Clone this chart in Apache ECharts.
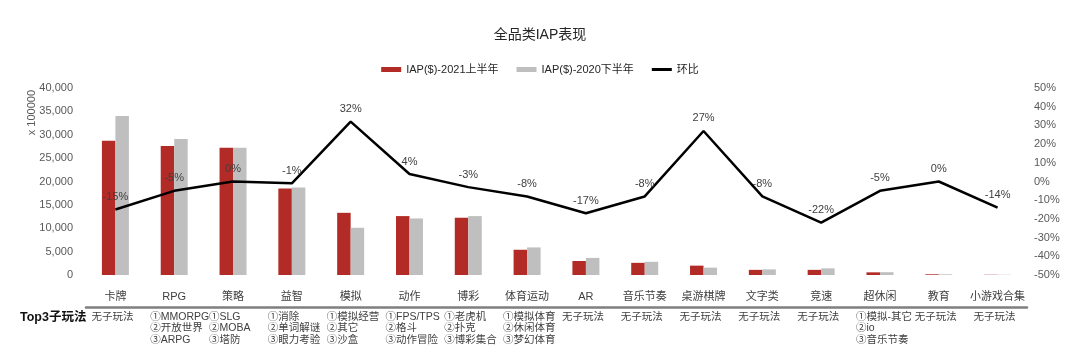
<!DOCTYPE html>
<html>
<head>
<meta charset="utf-8">
<script src="https://cdn.jsdelivr.net/npm/echarts@6/dist/echarts.min.js"></script>
<style>
html,body{margin:0;padding:0;background:#fff;}
#chart{width:1080px;height:361px;}
</style>
</head>
<body>
<div id="chart"></div>
<script>
const categories = ['卡牌','RPG','策略','益智','模拟','动作','博彩','体育运动','AR','音乐节奏','桌游棋牌','文字类','竞速','超休闲','教育','小游戏合集'];
const iap2021H1 = [28700, 27600, 27200, 18500, 13300, 12600, 12250, 5400, 3000, 2600, 2000, 1100, 1100, 570, 150, 50];
const iap2020H2 = [34000, 29100, 27200, 18700, 10100, 12100, 12600, 5900, 3650, 2830, 1570, 1200, 1420, 600, 150, 58];
const growth = [-15, -5, 0, -1, 32, 4, -3, -8, -17, -8, 27, -8, -22, -5, 0, -14];
const subPlays = [
  ['无子玩法'],
  ['①MMORPG','②开放世界','③ARPG'],
  ['①SLG','②MOBA','③塔防'],
  ['①消除','②单词解谜','③眼力考验'],
  ['①模拟经营','②其它','③沙盒'],
  ['①FPS/TPS','②格斗','③动作冒险'],
  ['①老虎机','②扑克','③博彩集合'],
  ['①模拟体育','②休闲体育','③梦幻体育'],
  ['无子玩法'],
  ['无子玩法'],
  ['无子玩法'],
  ['无子玩法'],
  ['无子玩法'],
  ['①模拟-其它','②io','③音乐节奏'],
  ['无子玩法'],
  ['无子玩法']
];
const seriesNames = ['IAP($)-2021上半年', 'IAP($)-2020下半年', '环比'];
const leftAxis = {min: 0, max: 40000, interval: 5000, unit: 'x 100000'};
const rightAxis = {min: -50, max: 50, interval: 10};
const titleText = '全品类IAP表现';
const tableHead = 'Top3子玩法';

const FONT = '"Liberation Sans", "Noto Sans CJK SC", sans-serif';
const chart = echarts.init(document.getElementById('chart'));
chart.setOption({
  backgroundColor: '#ffffff',
  textStyle: {fontFamily: FONT},
  title: {
    text: titleText, left: 'center', top: 23,
    textStyle: {fontSize: 14, fontWeight: 'normal', color: '#262626', fontFamily: FONT}
  },
  legend: {
    top: 59, left: 'center', itemWidth: 20, itemHeight: 5, itemGap: 18,
    textStyle: {fontSize: 11, color: '#262626', fontFamily: FONT},
    data: [
      {name: seriesNames[0], icon: 'rect'},
      {name: seriesNames[1], icon: 'rect'},
      {name: seriesNames[2], icon: 'path://M0,0 L20,0 L20,3 L0,3 Z', itemStyle: {color: '#000'}}
    ]
  },
  grid: {left: 86, right: 53, top: 88, bottom: 86},
  xAxis: [
    {
      type: 'category', data: categories,
      axisLine: {show: false, onZero: false}, axisTick: {show: false},
      axisLabel: {interval: 0, margin: 16, fontSize: 11, color: '#404040', fontFamily: FONT}
    },
    {
      type: 'category', data: categories, position: 'bottom', offset: 32,
      axisLine: {show: true, onZero: false, lineStyle: {color: '#7f7f7f', width: 2.5}},
      axisTick: {show: false},
      axisLabel: {
        interval: 0, margin: 4, align: 'center',
        formatter: function (v, i) { return subPlays[i].map(function (s) { return '{s|' + s + '}'; }).join('\n'); },
        rich: {s: {width: 48, align: 'left', fontSize: 10.5, lineHeight: 11.5, color: '#404040', fontFamily: FONT}}
      }
    }
  ],
  yAxis: [
    {
      type: 'value', min: leftAxis.min, max: leftAxis.max, interval: leftAxis.interval,
      splitLine: {show: false}, axisLine: {show: false}, axisTick: {show: false},
      axisLabel: {margin: 13, fontSize: 11, color: '#595959', fontFamily: FONT,
        formatter: function (v) { return v.toLocaleString('en-US'); }}
    },
    {
      type: 'value', min: rightAxis.min, max: rightAxis.max, interval: rightAxis.interval,
      splitLine: {show: false}, axisLine: {show: false}, axisTick: {show: false},
      axisLabel: {margin: 7, fontSize: 11, color: '#595959', fontFamily: FONT, formatter: '{value}%'}
    }
  ],
  graphic: [
    {type: 'text', left: 26, top: 90, rotation: Math.PI / 2,
      style: {text: leftAxis.unit, fill: '#595959', font: '11px ' + FONT}},
    {type: 'text', left: 20, top: 311,
      style: {text: tableHead, fill: '#111', font: 'bold 12.5px ' + FONT}}
  ],
  series: [
    {name: seriesNames[0], type: 'bar', xAxisIndex: 0, data: iap2021H1, barWidth: 13.5, barGap: '0%',
      itemStyle: {color: '#B22B26'}},
    {name: seriesNames[1], type: 'bar', xAxisIndex: 0, data: iap2020H2, barWidth: 13.5, barGap: '0%',
      itemStyle: {color: '#BFBFBF'}},
    {name: seriesNames[2], type: 'line', xAxisIndex: 0, yAxisIndex: 1, data: growth, showSymbol: true,
      symbol: 'circle', symbolSize: 0.1, lineStyle: {color: '#000', width: 2.5}, itemStyle: {color: '#000'}, z: 5,
      label: {show: true, position: 'top', distance: 7, fontSize: 11, color: '#404040', fontFamily: FONT,
        formatter: '{c}%'}}
  ]
});
</script>
</body>
</html>
